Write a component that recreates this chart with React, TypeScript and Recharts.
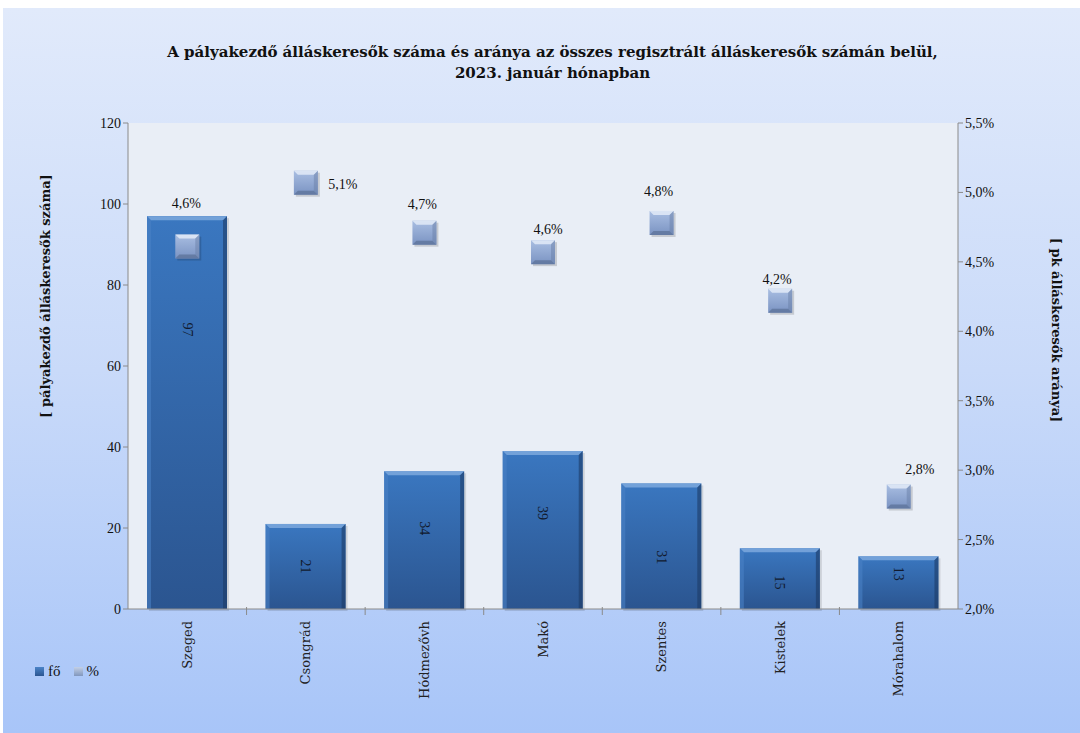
import React from 'react';
import {
  ComposedChart,
  Bar,
  Line,
  XAxis,
  YAxis,
  LabelList,
} from 'recharts';

const CITIES = ['Szeged', 'Csongrád', 'Hódmezővh', 'Makó', 'Szentes', 'Kistelek', 'Mórahalom'];
const PERSONS = [97, 21, 34, 39, 31, 15, 13];
const RATES = [4.61, 5.07, 4.71, 4.57, 4.78, 4.22, 2.81];
const LEFT_TICKS = [0, 20, 40, 60, 80, 100, 120];
const RIGHT_TICKS = [2.0, 2.5, 3.0, 3.5, 4.0, 4.5, 5.0, 5.5];

// label nudges, copied from where the original chart had them dragged
const RATE_LABEL_OFFSET = [
  [-1, -43], [37, 2], [-2, -28], [5, -23], [-3, -31], [-3, -21], [21, -27],
];
const BAR_LABEL_DY = [-83, 0, -12, -17, 11, 4, -9];

const W = 1077;
const H = 725;
const SERIF = '"Liberation Serif", "DejaVu Serif", serif';
const WIDE_SERIF = '"DejaVu Serif", serif';

const data = CITIES.map((city, i) => ({ city, fo: PERSONS[i], pct: RATES[i] }));

const fmtPct = (v: number) => v.toFixed(1).replace('.', ',') + '%';

const BarShape = (p: any) => {
  const { x, y, width, height } = p;
  if (!height || height <= 0) return null;
  const b = Math.min(4, height / 2);
  return (
    <g>
      <rect x={x + 2} y={y + 2} width={width} height={height} fill="#000" opacity={0.12} />
      <rect x={x} y={y} width={width} height={height} fill="url(#barGrad)" />
      <polygon
        points={`${x},${y} ${x + width},${y} ${x + width - b},${y + b} ${x + b},${y + b}`}
        fill="#7aa6dc"
        opacity={0.9}
      />
      <polygon
        points={`${x},${y} ${x + b},${y + b} ${x + b},${y + height} ${x},${y + height}`}
        fill="#4a80c4"
        opacity={0.6}
      />
      <polygon
        points={`${x + width},${y} ${x + width - b},${y + b} ${x + width - b},${y + height} ${x + width},${y + height}`}
        fill="#1d3a66"
        opacity={0.6}
      />
    </g>
  );
};

const Marker = (p: any) => {
  const { cx, cy } = p;
  if (cx == null || cy == null) return null;
  const s = 24;
  const x = cx - s / 2;
  const y = cy - s / 2;
  const b = 4;
  return (
    <g>
      <rect x={x + 2} y={y + 2} width={s} height={s} fill="#000" opacity={0.15} />
      <rect x={x} y={y} width={s} height={s} fill="url(#markGrad)" />
      <polygon
        points={`${x},${y} ${x + s},${y} ${x + s - b},${y + b} ${x + b},${y + b}`}
        fill="#dfe8f6"
        opacity={0.9}
      />
      <polygon
        points={`${x},${y + s} ${x + s},${y + s} ${x + s - b},${y + s - b} ${x + b},${y + s - b}`}
        fill="#5a6f96"
        opacity={0.7}
      />
      <polygon
        points={`${x + s},${y} ${x + s - b},${y + b} ${x + s - b},${y + s - b} ${x + s},${y + s}`}
        fill="#6a80a8"
        opacity={0.5}
      />
    </g>
  );
};

const BarValue = (p: any) => {
  const { x, y, width, height, value, index } = p;
  const cx = x + width / 2;
  const cy = y + height / 2 + (BAR_LABEL_DY[index] ?? 0);
  return (
    <text
      x={cx}
      y={cy}
      transform={`rotate(90 ${cx} ${cy})`}
      textAnchor="middle"
      dominantBaseline="central"
      fontFamily={SERIF}
      fontSize={14}
      fill="#111a2e"
    >
      {value}
    </text>
  );
};

const RateValue = (p: any) => {
  const { x, y, value, index } = p;
  const [dx, dy] = RATE_LABEL_OFFSET[index] ?? [0, -20];
  return (
    <text
      x={x + dx}
      y={y + dy}
      textAnchor="middle"
      dominantBaseline="central"
      fontFamily={SERIF}
      fontSize={14}
      fill="#111"
    >
      {fmtPct(value)}
    </text>
  );
};

const CityTick = (p: any) => {
  const { x, y, payload, index } = p;
  const half = (955 - 125) / CITIES.length / 2;
  return (
    <g>
      {index > 0 && <line x1={x - half} x2={x - half} y1={y - 10} y2={y - 2} stroke="#8a8a8a" />}
      <text
        x={x}
        y={y + 4}
        transform={`rotate(-90 ${x} ${y + 4})`}
        textAnchor="end"
        dominantBaseline="central"
        fontFamily={WIDE_SERIF}
        fontSize={13}
        fill="#222"
      >
        {payload.value}
      </text>
    </g>
  );
};

export default function App() {
  return (
    <div
      style={{
        position: 'absolute',
        left: 3,
        top: 8,
        width: W,
        height: H,
        background: 'linear-gradient(180deg, #e1eafb 0%, #c9daf9 50%, #a8c5f8 100%)',
      }}
    >
      <div
        style={{
          position: 'absolute',
          left: 22,
          width: W - 22,
          top: 34,
          textAlign: 'center',
          fontFamily: WIDE_SERIF,
          fontWeight: 'bold',
          fontSize: 15,
          lineHeight: '21px',
          color: '#111',
        }}
      >
        A pályakezdő álláskeresők száma és aránya az összes regisztrált álláskeresők számán belül,
        <br />
        2023. január hónapban
      </div>
      <ComposedChart
        width={W}
        height={H}
        data={data}
        margin={{ top: 115, right: 62, bottom: 14, left: 65 }}
        style={{ position: 'absolute', left: 0, top: 0 }}
      >
        <defs>
          <linearGradient id="barGrad" x1="0" y1="0" x2="0" y2="1">
            <stop offset="0%" stopColor="#3a77c0" />
            <stop offset="100%" stopColor="#2b5590" />
          </linearGradient>
          <linearGradient id="markGrad" x1="0" y1="0" x2="0" y2="1">
            <stop offset="0%" stopColor="#a9bee2" />
            <stop offset="100%" stopColor="#7a93c2" />
          </linearGradient>
        </defs>
        <rect x={125} y={115} width={830} height={486} fill="#e9eef6" />
        <XAxis
          dataKey="city"
          xAxisId="x"
          height={110}
          interval={0}
          tickLine={false}
          axisLine={{ stroke: '#8a8a8a' }}
          tick={<CityTick />}
        />
        <YAxis
          yAxisId="left"
          width={60}
          domain={[0, 120]}
          ticks={LEFT_TICKS}
          tickSize={5}
          axisLine={{ stroke: '#8a8a8a' }}
          tickLine={{ stroke: '#8a8a8a' }}
          tick={{ fontFamily: SERIF, fontSize: 14, fill: '#111' }}
          label={{
            content: () => (
              <text
                x={42}
                y={288}
                transform="rotate(-90 42 288)"
                textAnchor="middle"
                dominantBaseline="central"
                fontFamily={WIDE_SERIF}
                fontWeight="bold"
                fontSize={13}
                fill="#111"
              >
                [ pályakezdő  álláskeresők száma]
              </text>
            ),
          }}
        />
        <YAxis
          yAxisId="right"
          orientation="right"
          width={60}
          domain={[2, 5.5]}
          ticks={RIGHT_TICKS}
          tickSize={5}
          axisLine={{ stroke: '#8a8a8a' }}
          tickLine={{ stroke: '#8a8a8a' }}
          tickFormatter={fmtPct}
          tick={{ fontFamily: SERIF, fontSize: 14, fill: '#111' }}
          label={{
            content: () => (
              <text
                x={1053}
                y={322}
                transform="rotate(90 1053 322)"
                textAnchor="middle"
                dominantBaseline="central"
                fontFamily={WIDE_SERIF}
                fontWeight="bold"
                fontSize={13}
                fill="#111"
              >
                [ pk álláskeresők aránya]
              </text>
            ),
          }}
        />
        <Bar
          dataKey="fo"
          name="fő"
          xAxisId="x"
          yAxisId="left"
          barSize={80}
          shape={<BarShape />}
          isAnimationActive={false}
        >
          <LabelList dataKey="fo" content={<BarValue />} />
        </Bar>
        <Line
          dataKey="pct"
          name="%"
          xAxisId="x"
          yAxisId="right"
          stroke="none"
          dot={(p: any) => <Marker {...p} key={`d-${p.index}`} />}
          activeDot={false}
          isAnimationActive={false}
        >
          <LabelList dataKey="pct" content={<RateValue />} />
        </Line>
      </ComposedChart>
      <div
        style={{
          position: 'absolute',
          left: 32,
          top: 655,
          display: 'flex',
          alignItems: 'center',
          fontFamily: SERIF,
          fontSize: 15,
          color: '#111',
        }}
      >
        <span style={{ width: 9, height: 9, background: 'linear-gradient(#4b84c8, #2b5590)', marginRight: 4 }} />
        <span style={{ marginRight: 13 }}>fő</span>
        <span style={{ width: 9, height: 9, background: 'linear-gradient(#c3d0e6, #8197be)', marginRight: 4 }} />
        <span>%</span>
      </div>
    </div>
  );
}
